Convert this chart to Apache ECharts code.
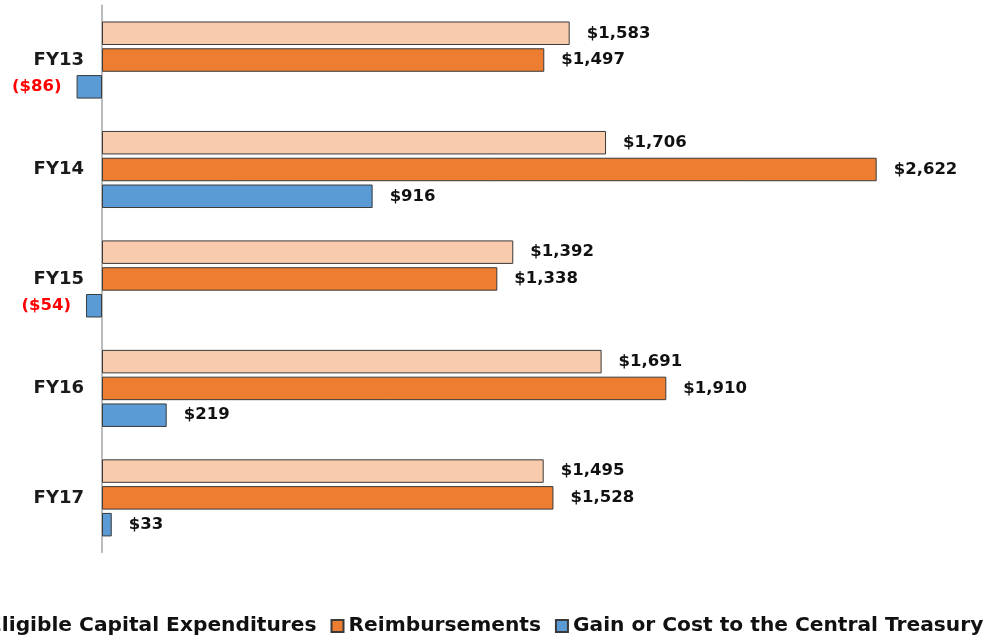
<!DOCTYPE html>
<html>
<head>
<meta charset="utf-8">
<script src="https://cdn.jsdelivr.net/npm/echarts@6/dist/echarts.min.js"></script>
<style>
  html, body { margin: 0; padding: 0; background: #ffffff; }
  #chart { width: 992px; height: 641px; }
</style>
</head>
<body>
<div id="chart"></div>
<script>
// Fiscal years and values ($)
const categories = ['FY13', 'FY14', 'FY15', 'FY16', 'FY17'];
const eligibleCapex = [1583, 1706, 1392, 1691, 1495];
const reimbursements = [1497, 2622, 1338, 1910, 1528];
const treasuryGain = [-86, 916, -54, 219, 33];

const seriesNames = [
  'Eligible Capital Expenditures',
  'Reimbursements',
  'Gain or Cost to the Central Treasury'
];

const FONT = 'DejaVu Sans';

function money(v) {
  const s = '$' + Math.abs(v).toLocaleString('en-US');
  return v < 0 ? '(' + s + ')' : s;
}

// Positive values labelled to the right in black, negatives to the left in red
function withLabels(values) {
  return values.map(v => ({
    value: v,
    label: v < 0
      ? { position: 'left', distance: 15, color: '#ff0000' }
      : { position: 'right', distance: 17, color: '#111111' }
  }));
}

function barSeries(name, values, color) {
  return {
    name: name,
    type: 'bar',
    barWidth: 23.5,
    barGap: '14%',
    data: withLabels(values),
    itemStyle: { color: color, borderColor: '#3a3a3a', borderWidth: 1 },
    label: {
      show: true,
      fontFamily: FONT,
      fontWeight: 'bold',
      fontSize: 16.5,
      formatter: p => money(p.value)
    },
    emphasis: { disabled: true }
  };
}

const chart = echarts.init(document.getElementById('chart'), null, { renderer: 'canvas' });

const gridLeft = 13.36;

chart.setOption({
  backgroundColor: '#ffffff',
  animation: false,
  grid: {
    left: gridLeft, width: 975, top: 5.3, height: 547.3,
    containLabel: false, outerBoundsMode: 'none'
  },
  xAxis: {
    type: 'value',
    min: -300,
    max: 3000,
    show: false,
    splitLine: { show: false }
  },
  yAxis: {
    type: 'category',
    data: categories,
    inverse: true,
    axisLine: { show: true, onZero: true, lineStyle: { color: '#a6a6a6', width: 1.5 } },
    axisTick: { show: false },
    axisLabel: {
      // labels sit at the grid edge; pull them in so they end just left of the zero line
      margin: gridLeft - 84,
      fontFamily: FONT,
      fontWeight: 'bold',
      fontSize: 18,
      color: '#1a1a1a'
    }
  },
  legend: {
    left: -35,
    top: 611,
    width: 1400,
    itemWidth: 12,
    itemHeight: 12,
    itemGap: 14,
    icon: 'rect',
    textStyle: { fontFamily: FONT, fontWeight: 'bold', fontSize: 20.2, color: '#111111' },
    data: seriesNames
  },
  series: [
    barSeries(seriesNames[0], eligibleCapex, '#f8cbad'),
    barSeries(seriesNames[1], reimbursements, '#ed7d31'),
    barSeries(seriesNames[2], treasuryGain, '#5b9bd5')
  ]
});
</script>
</body>
</html>
